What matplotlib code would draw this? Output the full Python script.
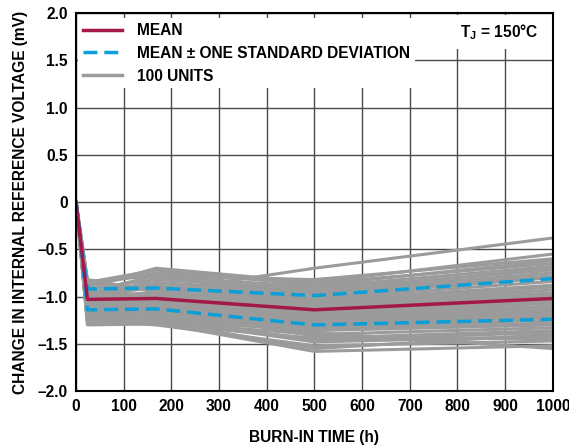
import numpy as np
import matplotlib
matplotlib.use('Agg')
import matplotlib.pyplot as plt
from matplotlib.lines import Line2D

plt.rcParams['font.family'] = ['Liberation Sans', 'DejaVu Sans']
plt.rcParams['font.weight'] = 'bold'
plt.rcParams['mathtext.fontset'] = 'custom'
plt.rcParams['mathtext.bf'] = 'Liberation Sans:bold'
plt.rcParams['mathtext.rm'] = 'Liberation Sans:bold'

# burn-in time points (h)
hours = [0, 24, 168, 500, 1000]

# mean and mean +/- one std (mV)
mean = [0, -1.03, -1.02, -1.14, -1.02]
std_hi = [0, -0.92, -0.91, -0.99, -0.81]
std_lo = [0, -1.14, -1.13, -1.30, -1.24]

# individual units, values at 24, 168, 500, 1000 h (all start at 0)
units = [
    [-0.82, -0.95, -0.70, -0.38],
    [-0.90, -0.70, -0.85, -0.55],
    [-0.85, -0.72, -0.88, -0.62],
    [-0.88, -0.75, -0.86, -0.65],
    [-0.95, -0.78, -0.90, -0.68],
    [-0.92, -0.82, -0.92, -0.72],
    [-0.96, -0.85, -0.95, -0.75],
    [-0.98, -0.88, -0.97, -0.78],
    [-1.00, -0.90, -1.00, -0.80],
    [-0.86, -0.92, -1.02, -0.84],
    [-1.02, -0.95, -1.04, -0.88],
    [-1.04, -0.97, -1.06, -0.90],
    [-0.94, -0.99, -1.08, -0.93],
    [-1.05, -1.00, -1.10, -0.96],
    [-1.06, -1.02, -1.12, -0.98],
    [-1.08, -1.03, -1.13, -1.00],
    [-1.00, -1.05, -1.15, -1.02],
    [-1.10, -1.06, -1.16, -1.05],
    [-1.12, -1.08, -1.18, -1.07],
    [-1.03, -1.09, -1.20, -1.10],
    [-1.14, -1.10, -1.21, -1.12],
    [-1.15, -1.12, -1.22, -1.14],
    [-1.16, -1.14, -1.24, -1.16],
    [-1.18, -1.15, -1.26, -1.18],
    [-1.20, -1.17, -1.28, -1.20],
    [-1.07, -1.18, -1.30, -1.22],
    [-1.22, -1.20, -1.32, -1.25],
    [-1.24, -1.22, -1.34, -1.28],
    [-1.26, -1.25, -1.36, -1.30],
    [-1.28, -1.27, -1.40, -1.33],
    [-1.30, -1.29, -1.44, -1.36],
    [-1.12, -1.24, -1.48, -1.42],
    [-1.25, -1.30, -1.52, -1.47],
    [-1.22, -1.28, -1.58, -1.52],
    [-1.18, -1.26, -1.55, -1.40],
    [-0.98, -1.12, -1.42, -1.45],
    [-1.10, -0.80, -0.95, -0.70],
    [-1.05, -1.20, -1.38, -1.55],
    [-0.84, -0.78, -0.82, -0.60],
    [-1.27, -1.23, -1.46, -1.38],
]

xticks = [0, 100, 200, 300, 400, 500, 600, 700, 800, 900, 1000]
yticks = [-2.0, -1.5, -1.0, -0.5, 0, 0.5, 1.0, 1.5, 2.0]
ylabels = ['\u20132.0', '\u20131.5', '\u20131.0', '\u20130.5', '0', '0.5', '1.0', '1.5', '2.0']

GRAY = '#9b9b9b'
RED = '#a3174b'
BLUE = '#0a9fd8'
FS = 11.2

fig = plt.figure(figsize=(5.69, 4.48), dpi=100)
ax = fig.add_axes([0.1336, 0.127, 0.838, 0.844])

for u in units:
    ax.plot(hours, [0] + u, color=GRAY, lw=2.2, zorder=2, solid_joinstyle='round')
ax.plot(hours, std_hi, color=BLUE, lw=2.5, ls=(0, (4, 2)), zorder=3)
ax.plot(hours, std_lo, color=BLUE, lw=2.5, ls=(0, (4, 2)), zorder=3)
ax.plot(hours, mean, color=RED, lw=2.5, zorder=4)

ax.set_xlim(0, 1000)
ax.set_ylim(-2.0, 2.0)
ax.set_xticks(xticks)
ax.set_yticks(yticks)
ax.set_yticklabels(ylabels)
ax.tick_params(length=0, labelsize=FS, pad=6)
ax.grid(True, color='#4a4a4a', lw=1.0, zorder=1)
ax.set_axisbelow(True)

ax.set_xlabel('BURN-IN TIME (h)', fontsize=FS, fontweight='bold', labelpad=11)
ax.set_ylabel('CHANGE IN INTERNAL REFERENCE VOLTAGE (mV)', fontsize=FS,
              fontweight='bold', labelpad=7)

handles = [
    Line2D([], [], color=RED, lw=2.5),
    Line2D([], [], color=BLUE, lw=2.5, ls=(0, (4, 2))),
    Line2D([], [], color=GRAY, lw=2.5),
]
leg = ax.legend(handles, ['MEAN', 'MEAN \u00b1 ONE STANDARD DEVIATION', '100 UNITS'],
                loc='upper left', bbox_to_anchor=(0.004, 0.986), borderaxespad=0,
                frameon=True, fancybox=False, framealpha=1, edgecolor='none',
                facecolor='white', handlelength=2.55, handletextpad=0.95,
                labelspacing=0.5, borderpad=0.3,
                prop={'size': FS, 'weight': 'bold'})
leg.set_zorder(6)

ax.text(0.97, 0.95, r'T$_{\mathbf{J}}$ = 150' + '\u00b0C',
        transform=ax.transAxes, ha='right', va='center', fontsize=FS,
        fontweight='bold', zorder=7,
        bbox=dict(facecolor='white', edgecolor='none', pad=5))

# spines on top of legend / text boxes
for s in ax.spines.values():
    s.set_linewidth(1.5)
    s.set_zorder(8)

fig.savefig('out.png', dpi=100)
